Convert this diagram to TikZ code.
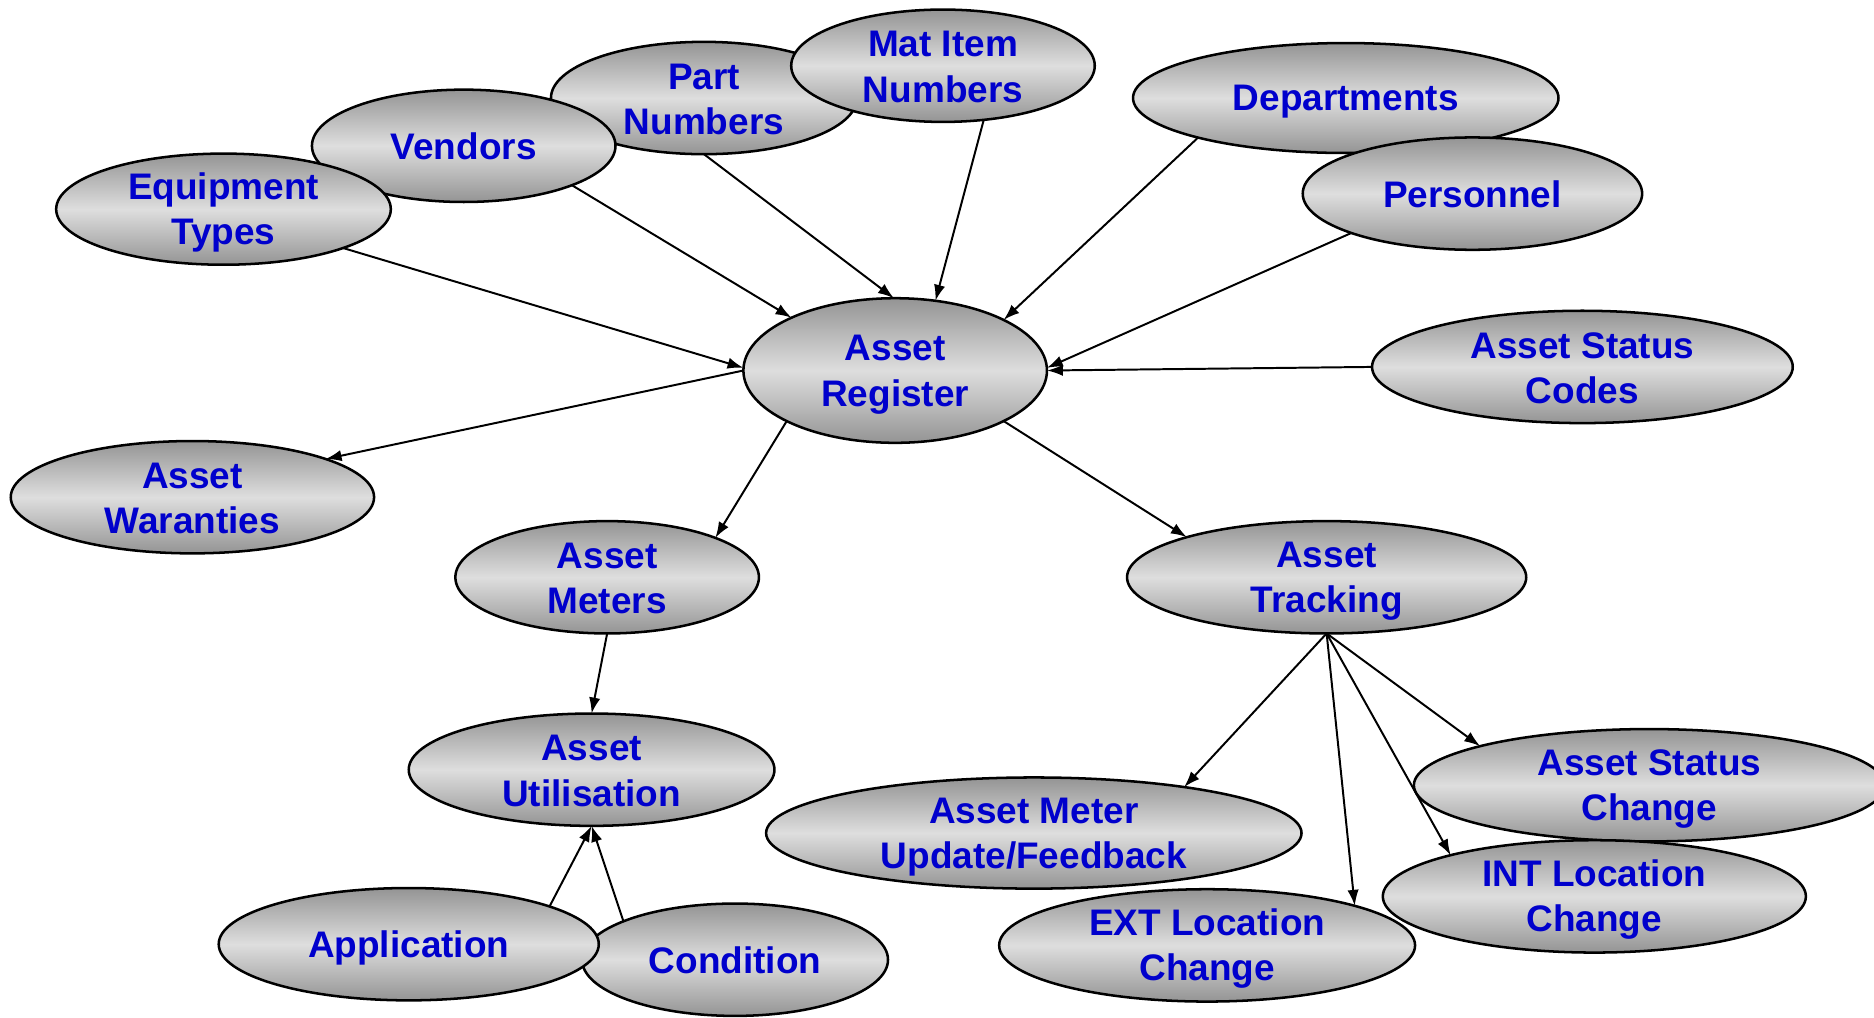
\documentclass[tikz,border=0pt]{standalone}
\usepackage{fontspec}
\setmainfont{Liberation Sans}
\usetikzlibrary{shapes.geometric,arrows.meta}
\definecolor{shd}{RGB}{148,148,148}
\definecolor{shl}{RGB}{222,222,222}
\definecolor{tblue}{RGB}{0,0,204}
\newcommand\ms{\rule[-1.44pt]{0pt}{9.44pt}}
\tikzset{
  ell/.style={ellipse, draw=black, line width=0.6pt, inner xsep=0pt, inner ysep=-3pt, outer sep=0pt,
    top color=shd, bottom color=shd, middle color=shl,
    text=tblue, font=\bfseries\fontsize{8.8}{10.8}\selectfont, align=center},
  arr/.style={-{Latex[length=3.8pt,width=2.7pt]}, line width=0.47pt}
}
\begin{document}
\begin{tikzpicture}
\useasboundingbox (0,0) rectangle (15.68,-8.51);
% top cluster
\node[ell, minimum width=2.56cm, minimum height=0.94cm] (prt) at (5.89,-0.82) {\ms Part\\\ms Numbers};
\node[ell, minimum width=2.54cm, minimum height=0.94cm] (mat) at (7.89,-0.55) {\ms Mat Item\\\ms Numbers};
\node[ell, minimum width=2.54cm, minimum height=0.94cm] (ven) at (3.88,-1.22) {\ms Vendors};
\node[ell, minimum width=2.80cm, minimum height=0.93cm] (eqt) at (1.87,-1.75) {\ms Equipment\\\ms Types};
\node[ell, minimum width=3.56cm, minimum height=0.92cm] (dep) at (11.26,-0.82) {\ms Departments};
\node[ell, minimum width=2.84cm, minimum height=0.94cm] (per) at (12.32,-1.62) {\ms Personnel};
\node[ell, minimum width=3.52cm, minimum height=0.94cm] (asc) at (13.24,-3.07) {\ms Asset Status\\\ms Codes};
\node[ell, minimum width=2.54cm, minimum height=1.21cm] (reg) at (7.49,-3.10) {\ms Asset\\\ms Register};
\node[ell, minimum width=3.04cm, minimum height=0.94cm] (war) at (1.61,-4.16) {\ms Asset\\\ms Waranties};
\node[ell, minimum width=2.54cm, minimum height=0.94cm] (met) at (5.08,-4.83) {\ms Asset\\\ms Meters};
\node[ell, minimum width=3.34cm, minimum height=0.94cm] (trk) at (11.10,-4.83) {\ms Asset\\\ms Tracking};
\node[ell, minimum width=3.06cm, minimum height=0.94cm] (uti) at (4.95,-6.44) {\ms Asset\\\ms Utilisation};
\node[ell, minimum width=2.56cm, minimum height=0.94cm] (con) at (6.15,-8.03) {\ms Condition};
\node[ell, minimum width=3.18cm, minimum height=0.94cm] (app) at (3.42,-7.90) {\ms Application};
\node[ell, minimum width=4.48cm, minimum height=0.93cm] (upd) at (8.65,-6.97) {\ms Asset Meter\\\ms Update/Feedback};
\node[ell, minimum width=3.48cm, minimum height=0.94cm] (ext) at (10.10,-7.91) {\ms EXT Location\\\ms Change};
\node[ell, minimum width=3.94cm, minimum height=0.94cm] (asch) at (13.80,-6.57) {\ms Asset Status\\\ms Change};
\node[ell, minimum width=3.54cm, minimum height=0.94cm] (int) at (13.34,-7.50) {\ms INT Location\\\ms Change};
% connectors
\draw[arr] (eqt.-18.8) -- (reg.179);
\draw[arr] (ven.-20.1) -- (reg.153.4);
\draw[arr] (prt.south) -- (reg.91);
\draw[arr] (mat.-53.5) -- (reg.60);
\draw[arr] (dep.195.2) -- (reg.25.8);
\draw[arr] (per.198.3) -- (reg.1.8);
\draw[arr] (asc.west) -- (reg.0.5);
\draw[arr] (reg.west) -- (war.16.8);
\draw[arr] (reg.205) -- (met.20.3);
\draw[arr] (reg.-25.3) -- (trk.164.8);
\draw[arr] (met.south) -- (uti.north);
\draw[arr] (app.15.8) -- (uti.south);
\draw[arr] (con.161) -- (uti.south);
\draw[arr] (trk.south) -- (upd.17.1);
\draw[arr] (trk.south) -- (ext.15.3);
\draw[arr] (trk.south) -- (int.164.7);
\draw[arr] (trk.south) -- (asch.167);
\end{tikzpicture}
\end{document}
